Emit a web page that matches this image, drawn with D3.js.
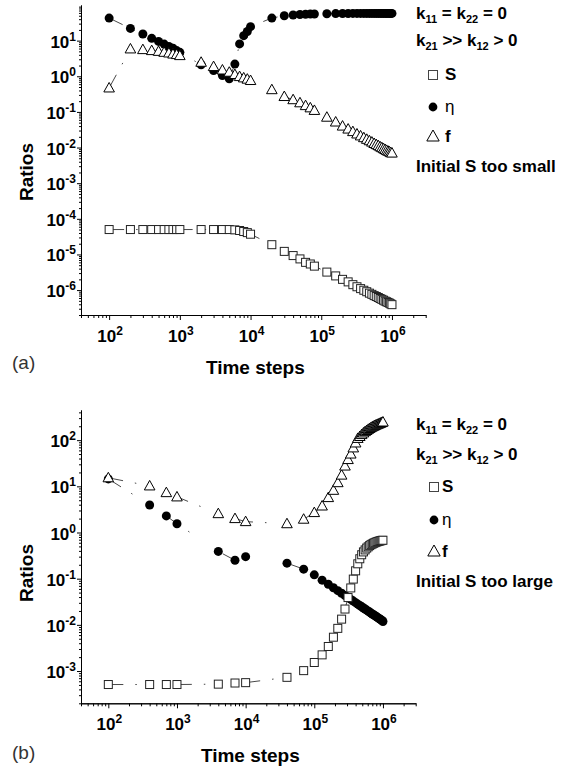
<!DOCTYPE html>
<html>
<head>
<meta charset="utf-8">
<script src="https://cdn.jsdelivr.net/npm/d3@7"></script>
<style>
body { margin: 0; background: #fff; }
svg text { font-family: "Liberation Sans", Arial, sans-serif; fill: #000; }
</style>
</head>
<body>
<div id="chart"></div>
<script>
// ---- data ----
// (a) initial S too small
const timeA = [100, 200, 300, 400, 500, 600, 700, 800, 900, 1000,
    2000, 3000, 4000, 5000, 6000, 7000, 8000, 9000, 10000,
    20000, 30000, 40000, 50000, 60000, 70000, 80000,
    120000, 160000, 200000, 240000, 280000, 320000, 360000, 400000, 440000, 480000, 520000, 560000,
    600000, 640000, 680000, 720000, 760000, 800000, 840000, 880000, 920000, 960000, 1000000];
const etaA = [43, 22, 15.4, 11.6, 9.5, 8.0, 6.9, 6.1, 5.25, 4.7,
    2.1, 1.45, 1.05, 0.85, 2.2, 8.1, 13.8, 18, 24.7,
    43, 50, 52.5, 54, 55, 55.5, 56,
    57, 57.3, 57.6, 57.8, 58, 58, 58, 58, 58, 58, 58, 58,
    58, 58, 58, 58, 58, 58, 58, 58, 58, 58, 58];
const fA = [0.47, 5.85, 5.6, 5.25, 5.0, 4.7, 4.5, 4.2, 4.06, 3.8,
    2.47, 1.87, 1.5, 1.3, 1.12, 0.98, 0.9, 0.83, 0.76,
    0.42, 0.27, 0.22, 0.18, 0.15, 0.13, 0.11,
    0.071, 0.052, 0.040, 0.033, 0.028, 0.024, 0.0212, 0.0189, 0.0170, 0.0155, 0.0142, 0.0130,
    0.0121, 0.0113, 0.0105, 0.0099, 0.0093, 0.0088, 0.0083, 0.0079, 0.0076, 0.0072, 0.0070];
const sA = [5.0e-5, 5.0e-5, 5.0e-5, 5.0e-5, 5.0e-5, 5.0e-5, 5.0e-5, 5.0e-5, 5.0e-5, 5.0e-5,
    5.0e-5, 5.0e-5, 5.0e-5, 5.0e-5, 4.9e-5, 4.7e-5, 4.4e-5, 4.1e-5, 3.7e-5,
    1.88e-5, 1.22e-5, 9.3e-6, 7.5e-6, 6.0e-6, 5.4e-6, 4.7e-6,
    3.2e-6, 2.5e-6, 2.0e-6, 1.7e-6, 1.42e-6, 1.24e-6, 1.1e-6, 9.9e-7, 9.0e-7, 8.2e-7, 7.6e-7, 7.0e-7,
    6.6e-7, 6.2e-7, 5.8e-7, 5.5e-7, 5.2e-7, 4.9e-7, 4.7e-7, 4.5e-7, 4.3e-7, 4.1e-7, 3.9e-7];

// (b) initial S too large
const timeB = [100, 400, 700, 1000, 4000, 7000, 10000, 40000, 70000,
    100000, 130000, 160000, 190000, 220000, 250000, 280000, 310000, 340000, 370000, 400000,
    430000, 460000, 490000, 520000, 550000, 580000, 610000, 640000, 670000, 700000,
    730000, 760000, 790000, 820000, 850000, 880000, 910000, 940000, 970000, 1000000];
const etaB = [14.5, 3.95, 2.29, 1.55, 0.39, 0.25, 0.30, 0.217, 0.161,
    0.121, 0.093, 0.0756, 0.0637, 0.055, 0.0484, 0.0432, 0.039, 0.0356, 0.0327, 0.0302,
    0.0281, 0.0263, 0.0247, 0.0232, 0.022, 0.0208, 0.0198, 0.0189, 0.018, 0.0172,
    0.0165, 0.0159, 0.0153, 0.0147, 0.0142, 0.0137, 0.0132, 0.0128, 0.0124, 0.0118];
const fB = [15.3, 10.2, 7.3, 5.9, 2.56, 2.0, 1.72, 1.55, 1.94,
    2.7, 3.75, 5.7, 8.2, 12, 17.5, 27.5, 38, 50, 68, 87,
    109, 120, 132, 143, 153, 162, 171, 179, 187, 194,
    200, 206, 212, 217, 222, 227, 232, 237, 242, 247];
const sB = [5.1e-4, 5.1e-4, 5.1e-4, 5.1e-4, 5.2e-4, 5.5e-4, 5.6e-4, 7.3e-4, 1.02e-3,
    1.53e-3, 2.24e-3, 3.4e-3, 5.4e-3, 8.4e-3, 0.0133, 0.022, 0.039, 0.063, 0.098, 0.148,
    0.21, 0.27, 0.33, 0.38, 0.42, 0.46, 0.49, 0.52, 0.545, 0.565,
    0.585, 0.60, 0.615, 0.63, 0.64, 0.65, 0.66, 0.668, 0.675, 0.68];

// axis ticks
const xDomain = [40, 3e6];
const xTickExps = [2, 3, 4, 5, 6];
const yTickExpsA = [1, 0, -1, -2, -3, -4, -5, -6];
const yTickExpsB = [2, 1, 0, -1, -2, -3];

let svg = d3.select('#chart').append('svg')
    .attr('width', 576)
    .attr('height', 774);

// minor ticks 2..9 of each decade inside the domain
let minorTicks = function (dom) {
    let out = [];
    for (let e = Math.floor(Math.log10(dom[0])); e <= Math.ceil(Math.log10(dom[1])); e++) {
        for (let m = 2; m <= 9; m++) {
            let v = m * Math.pow(10, e);
            if (v >= dom[0] * 0.999 && v <= dom[1] * 1.001) out.push(v);
        }
    }
    return out;
};

let powLabel = function (sel, e) {
    sel.append('tspan').text('10');
    sel.append('tspan').attr('dy', -7).attr('font-size', 12).text(e);
};

// text with subscripts, parts = [[text, isSub], ...]
let subText = function (g, x, y, parts) {
    let t = g.append('text').attr('x', x).attr('y', y)
        .attr('font-size', 17).attr('font-weight', 'bold');
    let shifted = false;
    parts.forEach(function (p) {
        let ts = t.append('tspan').text(p[0]);
        if (p[1] && !shifted) { ts.attr('dy', 4).attr('font-size', 11); shifted = true; }
        else if (p[1]) { ts.attr('font-size', 11); }
        else if (shifted) { ts.attr('dy', -4); shifted = false; }
    });
};

const triPath = 'M0,-5.5L5.3,4L-5.3,4Z';
const lineStyle = { stroke: '#333', width: 0.9, dash: '15,12,1.5,40' };

let drawPanel = function (p) {
    let g = svg.append('g');
    let x = d3.scaleLog().domain(xDomain).range([p.left, p.right]);
    let y = d3.scaleLog().domain(p.yDomain).range([p.bottom, p.top]);

    // x axis
    g.append('g').attr('transform', 'translate(0,' + p.bottom + ')')
        .call(d3.axisBottom(x).tickValues(minorTicks(xDomain)).tickSize(3).tickSizeOuter(0).tickFormat(''));
    g.append('g').attr('transform', 'translate(0,' + p.bottom + ')')
        .call(d3.axisBottom(x).tickValues(xTickExps.map(e => Math.pow(10, e))).tickSize(5).tickSizeOuter(0).tickFormat(''));
    // y axis
    g.append('g').attr('transform', 'translate(' + p.left + ',0)')
        .call(d3.axisLeft(y).tickValues(minorTicks(p.yDomain)).tickSize(2).tickSizeOuter(0).tickFormat(''));
    g.append('g').attr('transform', 'translate(' + p.left + ',0)')
        .call(d3.axisLeft(y).tickValues(p.yExps.map(e => Math.pow(10, e))).tickSize(4).tickSizeOuter(0).tickFormat(''));
    g.selectAll('.domain, .tick line').attr('stroke', '#000').attr('stroke-width', 1);

    // tick labels
    xTickExps.forEach(function (e) {
        let t = g.append('text')
            .attr('x', x(Math.pow(10, e)) + 1)
            .attr('y', p.bottom + 27)
            .attr('text-anchor', 'middle')
            .attr('font-size', 17).attr('font-weight', 'bold');
        powLabel(t, e);
    });
    p.yExps.forEach(function (e) {
        let t = g.append('text')
            .attr('x', p.left - 5)
            .attr('y', y(Math.pow(10, e)) + 7)
            .attr('text-anchor', 'end')
            .attr('font-size', 17).attr('font-weight', 'bold');
        powLabel(t, e);
    });

    // axis titles
    g.append('text')
        .attr('x', (p.left + p.right) / 2 + 2)
        .attr('y', p.bottom + 59)
        .attr('text-anchor', 'middle')
        .attr('font-size', 19).attr('font-weight', 'bold')
        .text('Time steps');
    g.append('text')
        .attr('transform', 'translate(33,' + p.ratiosY + ') rotate(-90)')
        .attr('text-anchor', 'middle')
        .attr('font-size', 19).attr('font-weight', 'bold')
        .text('Ratios');
    g.append('text')
        .attr('x', 12).attr('y', p.tagY)
        .attr('font-size', 19).style('fill', '#333')
        .text(p.tag);

    // series
    let series = [
        { key: 'eta', v: p.eta },
        { key: 's', v: p.s },
        { key: 'f', v: p.f }
    ];
    let line = d3.line().x(d => x(d[0])).y(d => y(d[1]));
    series.forEach(function (s) {
        g.append('path')
            .datum(d3.zip(p.time, s.v))
            .attr('d', line)
            .attr('fill', 'none')
            .attr('stroke', lineStyle.stroke)
            .attr('stroke-width', lineStyle.width)
            .attr('stroke-dasharray', lineStyle.dash);
    });

    g.selectAll('circle.eta')
        .data(d3.zip(p.time, p.eta))
        .enter().append('circle')
        .attr('class', 'eta')
        .attr('cx', d => x(d[0]))
        .attr('cy', d => y(d[1]))
        .attr('r', 4.5)
        .attr('fill', '#000');

    g.selectAll('rect.s')
        .data(d3.zip(p.time, p.s))
        .enter().append('rect')
        .attr('class', 's')
        .attr('x', d => x(d[0]) - 4)
        .attr('y', d => y(d[1]) - 4)
        .attr('width', 8)
        .attr('height', 8)
        .attr('fill', '#fff')
        .attr('stroke', '#222')
        .attr('stroke-width', 1);

    g.selectAll('path.f')
        .data(d3.zip(p.time, p.f))
        .enter().append('path')
        .attr('class', 'f')
        .attr('d', triPath)
        .attr('transform', d => 'translate(' + x(d[0]) + ',' + y(d[1]) + ')')
        .attr('fill', '#fff')
        .attr('stroke', '#000')
        .attr('stroke-width', 1);

    // legend
    let L = p.legend;
    subText(g, L.x, L.y[0], [['k', 0], ['11', 1], [' = k', 0], ['22', 1], [' = 0', 0]]);
    subText(g, L.x, L.y[1], [['k', 0], ['21', 1], [' >> k', 0], ['12', 1], [' > 0', 0]]);
    g.append('rect')
        .attr('x', L.mx - 4.5).attr('y', L.y[2] - 9.5)
        .attr('width', 9).attr('height', 9)
        .attr('fill', '#fff').attr('stroke', '#444').attr('stroke-width', 1);
    g.append('text').attr('x', L.tx).attr('y', L.y[2])
        .attr('font-size', 17).attr('font-weight', 'bold').text('S');
    g.append('circle')
        .attr('cx', L.mx).attr('cy', L.y[3] - 5)
        .attr('r', 4.4).attr('fill', '#000');
    g.append('text').attr('x', L.tx).attr('y', L.y[3])
        .attr('font-size', 17).text('η');
    g.append('path')
        .attr('d', 'M0,-6L6.2,5L-6.2,5Z')
        .attr('transform', 'translate(' + L.mx + ',' + (L.y[4] - 6) + ')')
        .attr('fill', '#fff').attr('stroke', '#000').attr('stroke-width', 1);
    g.append('text').attr('x', L.tx).attr('y', L.y[4])
        .attr('font-size', 17).attr('font-weight', 'bold').text('f');
    g.append('text').attr('x', L.x).attr('y', L.y[5])
        .attr('font-size', 17).attr('font-weight', 'bold').text(L.note);
};

drawPanel({
    time: timeA, eta: etaA, f: fA, s: sA,
    left: 81, right: 425.7, top: 5, bottom: 315,
    yDomain: [2e-7, 100], yExps: yTickExpsA,
    ratiosY: 172, tag: '(a)', tagY: 369,
    legend: { x: 416, mx: 433, tx: 445, y: [19, 46, 80, 112, 142, 172], note: 'Initial S too small' }
});

drawPanel({
    time: timeB, eta: etaB, f: fB, s: sB,
    left: 81, right: 415.7, top: 410, bottom: 703.3,
    yDomain: [2e-4, 450], yExps: yTickExpsB,
    ratiosY: 573, tag: '(b)', tagY: 759,
    legend: { x: 416, mx: 434, tx: 442, y: [430, 460, 492, 525, 557, 587], note: 'Initial S too large' }
});
</script>
</body>
</html>
